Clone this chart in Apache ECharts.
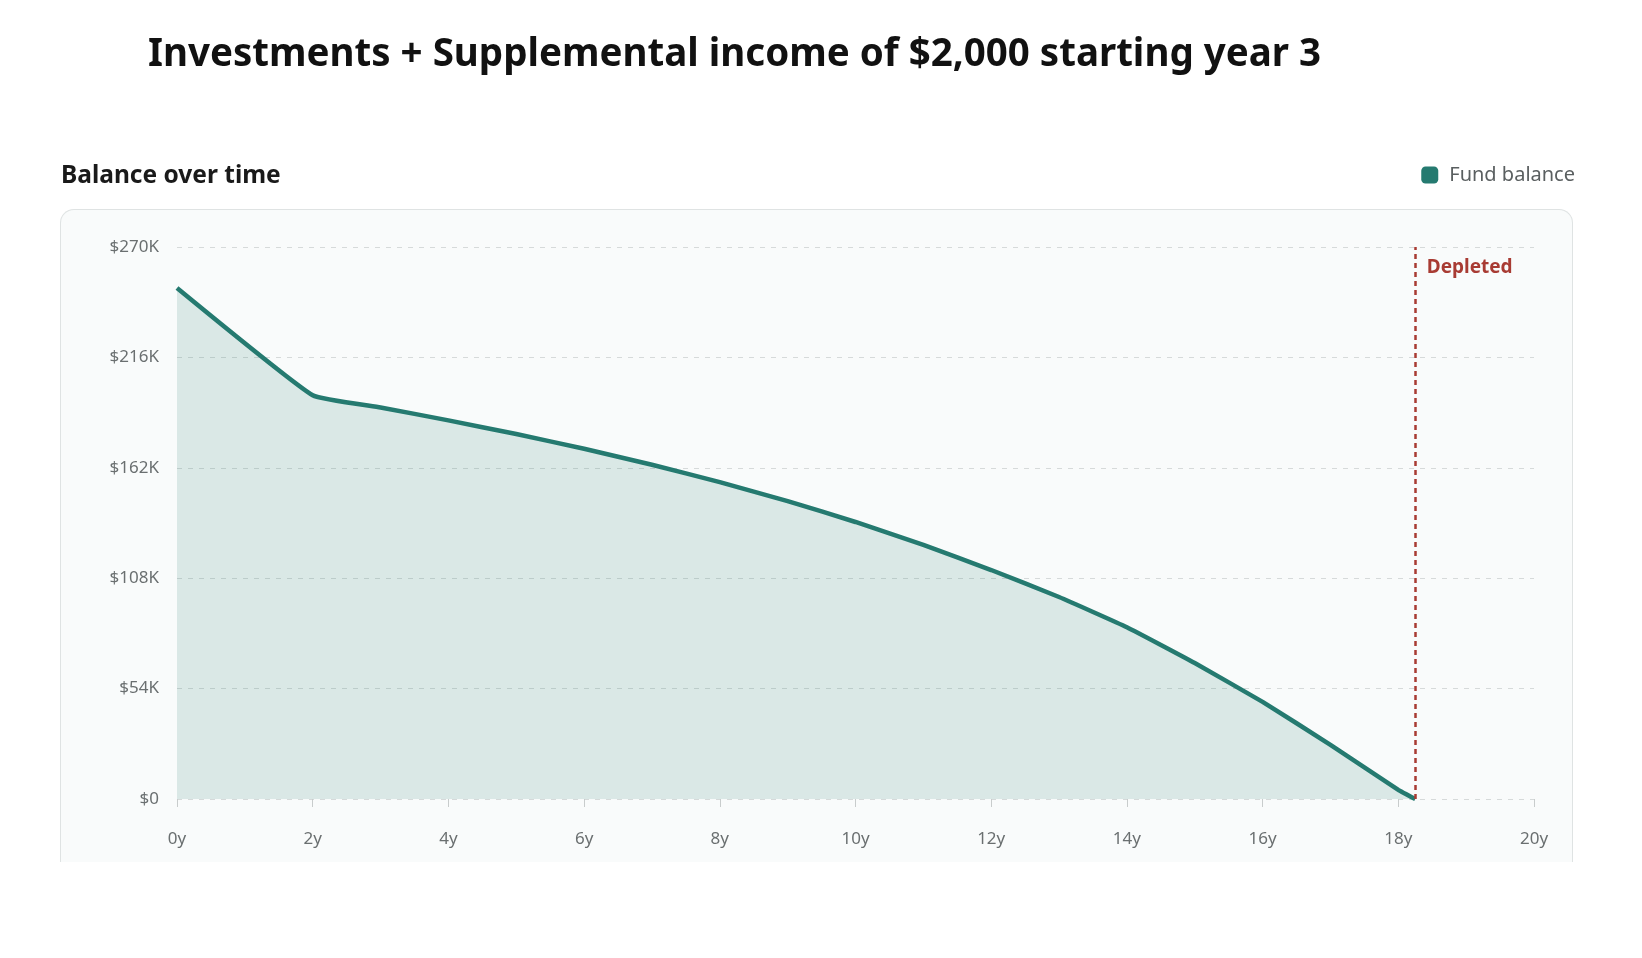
<!DOCTYPE html>
<html>
<head>
<meta charset="utf-8">
<script src="https://cdn.jsdelivr.net/npm/echarts@6/dist/echarts.min.js"></script>
<style>
  html, body { margin: 0; padding: 0; background: #fff; }
  #card {
    position: absolute; left: 60px; top: 209px; width: 1511px; height: 652px;
    border: 1.5px solid #dfe3e3; border-bottom: none;
    border-radius: 14px 14px 0 0; background: #f9fbfb;
  }
  #container { position: absolute; left: 0; top: 0; width: 1642px; height: 958px; }
</style>
</head>
<body>
<div id="card"></div>
<div id="container"></div>
<script>
// years since start and fund balance
var years = [0, 2, 3, 4, 5, 6, 7, 8, 9, 10, 11, 12, 13, 14, 15, 16, 17, 18, 18.25];
var balance = [250000, 197500, 191500, 185200, 178500, 171300, 163500, 155000, 145700,
               135500, 124300, 112000, 98800, 84000, 66500, 47500, 26500, 4500, 0];
var yTicks = [0, 54000, 108000, 162000, 216000, 270000];
var depletedAt = 18.25;

var teal = '#257a70';
var red = '#a83b33';

var dom = document.getElementById('container');
var myChart = echarts.init(dom);

var points = [];
for (var i = 0; i < years.length; i++) {
    points.push([years[i], balance[i]]);
}

var option = {
    animation: false,
    textStyle: { fontFamily: 'Noto Sans' },
    title: [{
        text: 'Investments + Supplemental income of $2,000 starting year 3',
        left: 143, top: 27,
        textStyle: { fontSize: 38.5, fontWeight: 'bold', color: '#111', lineHeight: 46, fontFamily: 'Noto Sans' }
    }, {
        text: 'Balance over time',
        left: 56, top: 157,
        textStyle: { fontSize: 24.5, fontWeight: 'bold', color: '#1a1a1a', lineHeight: 28, fontFamily: 'Noto Sans' }
    }],
    legend: {
        right: 62, top: 160,
        icon: 'roundRect',
        itemWidth: 17, itemHeight: 17, itemGap: 10,
        textStyle: { fontSize: 20, color: '#5a5f60', fontFamily: 'Noto Sans', padding: [0, 0, 0, 6] },
        data: ['Fund balance']
    },
    grid: { left: 177, right: 108, top: 247, bottom: 159 },
    xAxis: {
        type: 'value',
        min: 0, max: 20, interval: 2,
        axisLine: { show: false },
        axisTick: { show: true, length: 8, lineStyle: { color: '#c8cccc' } },
        splitLine: { show: false },
        axisLabel: {
            margin: 32, fontSize: 17, color: '#6a6f70',
            formatter: function (v) { return v + 'y'; }
        }
    },
    yAxis: {
        type: 'value',
        min: yTicks[0], max: yTicks[yTicks.length - 1], interval: 54000,
        axisLine: { show: false },
        axisTick: { show: false },
        splitLine: { lineStyle: { type: [5, 6], color: '#d6dada', width: 1 } },
        axisLabel: {
            margin: 18, fontSize: 17, color: '#6a6f70',
            formatter: function (v) { return v === 0 ? '$0' : '$' + (v / 1000) + 'K'; }
        }
    },
    series: [{
        name: 'Fund balance',
        type: 'line',
        data: points,
        symbol: 'none',
        smooth: 0.12,
        itemStyle: { color: teal },
        lineStyle: { color: teal, width: 4.5 },
        areaStyle: { color: 'rgba(45,128,118,0.22)' },
        markLine: {
            silent: true,
            symbol: ['none', 'none'],
            lineStyle: { color: red, type: [5, 4], width: 2.5 },
            label: { show: false },
            data: [[{ coord: [depletedAt, 0] }, { coord: [depletedAt, 270000] }]]
        },
        markPoint: {
            silent: true,
            symbol: 'circle', symbolSize: 1,
            itemStyle: { color: 'rgba(0,0,0,0)' },
            label: {
                show: true, position: 'right', distance: 11, offset: [0, 21],
                formatter: 'Depleted',
                color: red, fontSize: 19, fontWeight: 'bold', fontFamily: 'Noto Sans'
            },
            data: [{ coord: [depletedAt, 270000] }]
        }
    }]
};

myChart.setOption(option);
</script>
</body>
</html>
